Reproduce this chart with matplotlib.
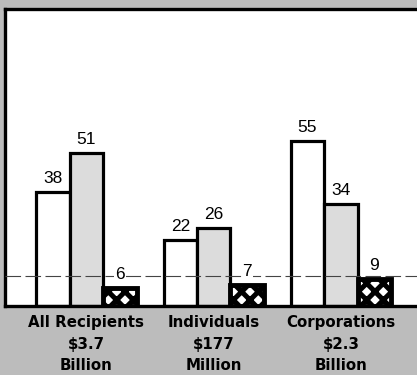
import matplotlib
matplotlib.use("Agg")
import matplotlib.pyplot as plt
import matplotlib.transforms as mtransforms
import numpy as np

# Recipient groups and the three shares shown for each
groups = ["All Recipients\n\\$3.7\nBillion",
          "Individuals\n\\$177\nMillion",
          "Corporations\n\\$2.3\nBillion"]
series_a = [38, 22, 55]   # open bars
series_b = [51, 26, 34]   # stippled bars
series_c = [6, 7, 9]      # dark patterned bars
reference_level = 10

plt.rcParams["hatch.linewidth"] = 3.6

fig = plt.figure(figsize=(4.17, 3.75), dpi=100)
fig.patch.set_facecolor("#bcbcbc")

ax = fig.add_axes([5 / 417, 69 / 375, 1 - 5 / 417, 297 / 375])
ax.set_facecolor("white")

x = np.arange(len(groups))
w = 0.263
edge_lw = 2.3

bars_a = ax.bar(x - w, series_a, w, facecolor="white", edgecolor="black",
                linewidth=edge_lw, zorder=2)
bars_b = ax.bar(x, series_b, w, facecolor="#dcdcdc", edgecolor="black",
                linewidth=edge_lw, zorder=2)
# dark bars: small white cells inside a heavy black lattice
ax.bar(x + w, series_c, w, facecolor="white", edgecolor="black",
       hatch="xx", linewidth=0, zorder=4)
bars_c = ax.bar(x + w, series_c, w, facecolor="none", edgecolor="black",
                linewidth=edge_lw + 1.2, zorder=5)

# dashed reference line across the panel
ax.axhline(reference_level, color="#444444", linewidth=0.8,
           dashes=(14, 4), zorder=3)

label_kw = dict(ha="center", va="bottom", fontsize=12.5,
                family=["Liberation Sans", "DejaVu Sans"],
                textcoords="offset points", zorder=6,
                bbox=dict(facecolor="white", edgecolor="none", pad=0.6))
for bars, vals in ((bars_a, series_a), (bars_b, series_b), (bars_c, series_c)):
    for rect, v in zip(bars, vals):
        ax.annotate(f"{v}", (rect.get_x() + rect.get_width() / 2, v),
                    xytext=(0, 4), **label_kw)

ax.set_xlim(-0.64, 2.597)
ax.set_ylim(0, 99)
ax.set_xticks([])
ax.set_yticks([])
for side in ("top", "left", "bottom"):
    ax.spines[side].set_linewidth(2.4)
    ax.spines[side].set_color("black")
ax.spines["right"].set_visible(False)

trans = mtransforms.blended_transform_factory(ax.transData, ax.transAxes)
for xi, g in zip(x, groups):
    ax.text(xi, -0.03, g, transform=trans, ha="center", va="top",
            fontsize=10.8, fontweight="heavy", family="DejaVu Sans",
            linespacing=1.56, clip_on=False)

fig.savefig("out.png", dpi=100, facecolor=fig.get_facecolor())
